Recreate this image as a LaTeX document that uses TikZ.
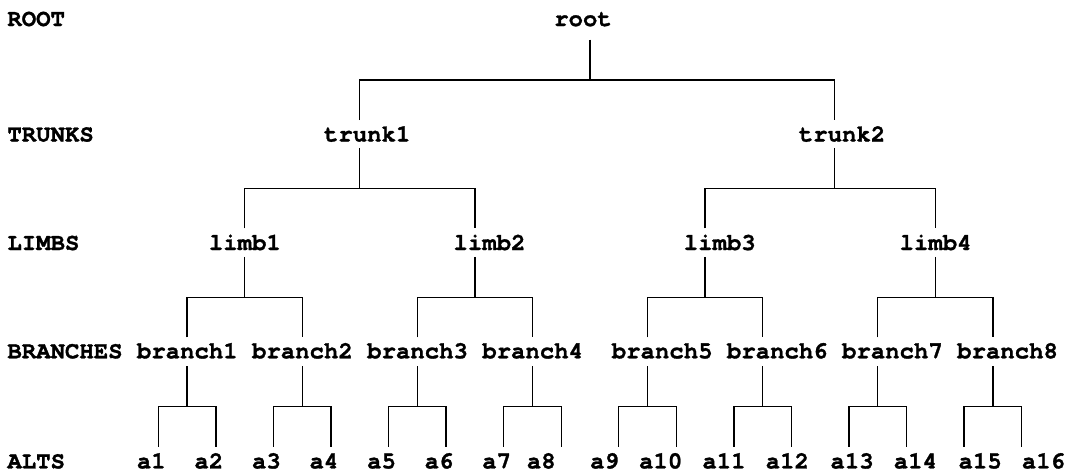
\documentclass[tikz,border=0pt]{standalone}
\usepackage{fontspec}
\setmonofont{TeX Gyre Cursor}[BoldFeatures={FakeBold=1.2}]
\begin{document}
\begin{tikzpicture}[x=14.39pt,y=-1pt,
  lbl/.style={anchor=base west,inner sep=0pt,font=\ttfamily\bfseries\fontsize{24}{28}\selectfont},
  conn/.style={line width=1.3pt,line cap=butt}]
\fill[white] (0,0) rectangle (74.427,472);
\useasboundingbox (0,0) rectangle (74.427,472);
% level labels
\node[lbl] (ROOT) at (0.5,26) {ROOT};
\node[lbl] (TRUNKS) at (0.5,141.5) {TRUNKS};
\node[lbl] (LIMBS) at (0.5,250) {LIMBS};
\node[lbl] (BRANCHES) at (0.5,358.3) {BRANCHES};
\node[lbl] (ALTS) at (0.5,468.4) {ALTS};
% tree nodes
\node[lbl] (root) at (38.5,26) {root};
\node[lbl] (trunk1) at (22.5,141.5) {trunk1};
\node[lbl] (trunk2) at (55.5,141.5) {trunk2};
\foreach \n/\x in {limb1/14.5,limb2/31.5,limb3/47.5,limb4/62.5}
  \node[lbl] (\n) at (\x,250) {\n};
\foreach \n/\x in {branch1/9.5,branch2/17.5,branch3/25.5,branch4/33.5,branch5/42.5,branch6/50.5,branch7/58.5,branch8/66.5}
  \node[lbl] (\n) at (\x,358.3) {\n};
\foreach \n/\x in {a1/9.5,a2/13.5,a3/17.5,a4/21.5,a5/25.5,a6/29.5,a7/33.5,a8/36.6,a9/41.0,a10/44.4,a11/48.8,a12/53.2,a13/57.7,a14/62.1,a15/66.6,a16/71.0}
  \node[lbl] (\n) at (\x,468.4) {\n};
% connectors
\foreach \p/\c/\l/\r/\H in {root/41/25/58/80,
    trunk1/25/17/33/188.3, trunk2/58/49/65/188.3,
    limb1/17/13/21/297.3, limb2/33/29/37/297.3, limb3/49/45/53/297.3, limb4/65/61/69/297.3,
    branch1/13/11/15/406.7, branch2/21/19/23/406.7, branch3/29/27/31/406.7, branch4/37/35/39/406.7,
    branch5/45/43/47/406.7, branch6/53/51/55/406.7, branch7/61/59/63/406.7, branch8/69/67/71/406.7} {
  \coordinate (\p-top) at (\c,\H-40.5);
  \coordinate (\p-j) at (\c,\H);
  \coordinate (\p-L) at (\l,\H+40);
  \coordinate (\p-R) at (\r,\H+40);
  \draw[conn] (\p-top) -- (\p-j);
  \draw[conn] (\p-L) |- (\p-j) -| (\p-R);
}
\end{tikzpicture}
\end{document}
